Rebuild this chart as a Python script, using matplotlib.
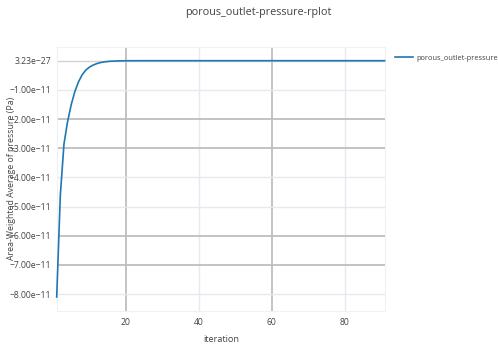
import matplotlib
matplotlib.use("Agg")
import matplotlib.pyplot as plt

# residual history for the outlet pressure report
iterations = list(range(1, 92))
head_values = [
    -8.10e-11, -4.60e-11, -2.85e-11, -2.08e-11, -1.50e-11,
    -1.05e-11, -0.72e-11, -0.48e-11, -0.32e-11, -0.22e-11,
    -0.15e-11, -0.10e-11, -0.065e-11, -0.042e-11, -0.027e-11,
    -0.017e-11, -0.011e-11, -0.007e-11, -0.004e-11, -0.002e-11,
    -0.001e-11, -0.0005e-11, -0.0002e-11, -0.0001e-11, -0.00005e-11,
    -0.00002e-11, -0.00001e-11, -0.000005e-11, -0.000002e-11,
]
plateau_values = [3.23e-27] * (len(iterations) - len(head_values))
pressure = head_values + plateau_values

y_ticks = [3.23e-27, -1e-11, -2e-11, -3e-11, -4e-11, -5e-11, -6e-11, -7e-11, -8e-11]
y_tick_labels = ["3.23e\u221227", "\u22121.00e\u221211", "\u22122.00e\u221211",
                 "\u22123.00e\u221211", "\u22124.00e\u221211", "\u22125.00e\u221211",
                 "\u22126.00e\u221211", "\u22127.00e\u221211", "\u22128.00e\u221211"]
x_ticks = [20, 40, 60, 80]

series_name = "porous_outlet-pressure-rplot"
text_color = "#444444"
line_color = "#1f77b4"
light_grid = "#E6EAF0"
dark_grid = "#BEBEBE"

plt.rcParams["font.family"] = ["Open Sans", "DejaVu Sans"]

W, H = 498, 347
fig = plt.figure(figsize=(W / 100, H / 100), dpi=100)
left, right, top, bottom = 56.7, 385, 46.7, 311
ax = fig.add_axes([left / W, (H - bottom) / H, (right - left) / W, (bottom - top) / H])

ax.plot(iterations, pressure, color=line_color, linewidth=1.2, label=series_name,
        zorder=3, clip_on=False)

ax.set_xlim(1, 91.1)
ax.set_ylim(-8.58e-11, 0.48e-11)
ax.set_xticks(x_ticks)
ax.set_yticks(y_ticks)
ax.set_yticklabels(y_tick_labels)

ax.grid(True, linewidth=1.0, zorder=0)
for line, val in zip(ax.get_xgridlines(), x_ticks):
    line.set_color(dark_grid if val in (20, 60) else light_grid)
    line.set_linewidth(1.3 if val in (20, 60) else 1.0)
for line, val in zip(ax.get_ygridlines(), y_ticks):
    if val in (-2e-11, -3e-11, -6e-11, -7e-11):
        line.set_color(dark_grid)
        line.set_linewidth(1.3)
    elif val == 3.23e-27:
        line.set_color("#D2D2D2")
    else:
        line.set_color(light_grid)

for spine in ax.spines.values():
    spine.set_color("#EEF2F8")
    spine.set_linewidth(0.8)

ax.tick_params(axis="both", length=0, labelsize=6.2, colors=text_color, pad=4)
ax.tick_params(axis="x", pad=5)

# axis titles placed in figure pixels
fig.text((left + right) / 2 / W, 1 - 340 / H, "iteration", ha="center", va="center",
         fontsize=6.6, color=text_color)
fig.text(11.5 / W, 1 - (top + bottom) / 2 / H, "Area-Weighted Average of pressure (Pa)",
         ha="center", va="center", rotation=90, fontsize=6.3, color=text_color)

fig.text(258 / W, 1 - 12 / H, series_name, ha="center", va="center",
         fontsize=7.8, color=text_color)

ax.legend(loc="upper left", bbox_to_anchor=(1.021, 0.981), frameon=False,
          fontsize=5.4, handlelength=2.4, handletextpad=0.4, borderaxespad=0,
          labelcolor=text_color)

fig.savefig("out.png", dpi=100)
